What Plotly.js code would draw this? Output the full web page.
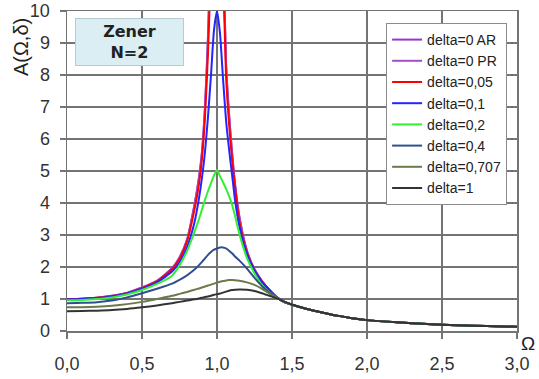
<!DOCTYPE html>
<html>
<head>
<meta charset="utf-8">
<script src="https://cdn.plot.ly/plotly-3.0.1.min.js"></script>
<style>html,body{margin:0;padding:0;background:#fff;}#chart{width:539px;height:379px;}</style>
</head>
<body>
<div id="chart"></div>
<script>
// Shared frequency ratio grid (Omega)
const omega = [0, 0.1, 0.2, 0.3, 0.4, 0.5, 0.6, 0.7, 0.75, 0.8, 0.85, 0.88, 0.9, 0.92, 0.94, 0.96, 0.98, 1.0, 1.02, 1.04, 1.06, 1.08, 1.1, 1.12, 1.15, 1.2, 1.25, 1.3, 1.35, 1.4, 1.45, 1.5, 1.6, 1.7, 1.8, 1.9, 2.0, 2.2, 2.4, 2.6, 2.8, 3.0];

const seriesNames = ["delta=0 AR", "delta=0 PR", "delta=0,05", "delta=0,1", "delta=0,2", "delta=0,4", "delta=0,707", "delta=1"];

const d0AR  = [1.00, 1.01, 1.04, 1.10, 1.19, 1.36, 1.57, 1.96, 2.3, 2.85, 3.95, 4.8, 5.6, 7.0, 9.2, 12.5, 25, null, 25, 12.5, 8.4, 6.8, 5.6, 4.6, 3.55, 2.5, 1.93, 1.56, 1.28, 1.05, 0.9, 0.82, 0.69, 0.58, 0.48, 0.40, 0.34, 0.27, 0.22, 0.18, 0.155, 0.13];
const d0PR  = [1.00, 1.01, 1.04, 1.10, 1.19, 1.36, 1.57, 1.96, 2.3, 2.85, 3.95, 4.8, 5.6, 7.0, 9.2, 12.5, 25, null, 25, 12.5, 8.4, 6.8, 5.6, 4.6, 3.55, 2.5, 1.93, 1.56, 1.28, 1.05, 0.9, 0.82, 0.69, 0.58, 0.48, 0.40, 0.34, 0.27, 0.22, 0.18, 0.155, 0.13];
const d005  = [1.00, 1.01, 1.04, 1.09, 1.18, 1.34, 1.55, 1.93, 2.25, 2.8, 3.8, 4.6, 5.4, 6.7, 8.7, 11.5, 15, 18, 15, 11.5, 8.0, 6.5, 5.4, 4.5, 3.4, 2.45, 1.9, 1.55, 1.28, 1.05, 0.9, 0.82, 0.69, 0.58, 0.48, 0.40, 0.34, 0.27, 0.22, 0.18, 0.155, 0.13];
const d01   = [0.99, 1.00, 1.03, 1.08, 1.17, 1.32, 1.52, 1.86, 2.15, 2.62, 3.4, 4.15, 4.8, 5.6, 6.7, 8.0, 9.4, 10.0, 9.3, 7.9, 6.6, 5.7, 4.9, 4.1, 3.25, 2.4, 1.88, 1.53, 1.27, 1.05, 0.9, 0.82, 0.69, 0.58, 0.48, 0.40, 0.34, 0.27, 0.22, 0.18, 0.155, 0.13];
const d02   = [0.96, 0.97, 1.0, 1.05, 1.14, 1.28, 1.47, 1.73, 2.05, 2.5, 3.1, 3.5, 3.8, 4.1, 4.37, 4.62, 4.86, 5.03, 4.84, 4.65, 4.45, 4.22, 3.95, 3.6, 3.02, 2.28, 1.8, 1.43, 1.2, 1.04, 0.9, 0.82, 0.69, 0.58, 0.48, 0.40, 0.34, 0.27, 0.22, 0.18, 0.155, 0.13];
const d04   = [0.87, 0.88, 0.9, 0.95, 1.05, 1.18, 1.32, 1.48, 1.6, 1.74, 1.92, 2.06, 2.16, 2.27, 2.38, 2.47, 2.54, 2.58, 2.61, 2.61, 2.58, 2.51, 2.43, 2.33, 2.2, 1.95, 1.66, 1.40, 1.19, 1.04, 0.9, 0.82, 0.69, 0.58, 0.48, 0.40, 0.34, 0.27, 0.22, 0.18, 0.155, 0.13];
const d0707 = [0.74, 0.745, 0.76, 0.79, 0.84, 0.91, 1.0, 1.1, 1.16, 1.22, 1.29, 1.33, 1.36, 1.39, 1.42, 1.45, 1.48, 1.51, 1.54, 1.56, 1.58, 1.59, 1.59, 1.585, 1.57, 1.52, 1.44, 1.32, 1.17, 1.04, 0.91, 0.82, 0.69, 0.58, 0.48, 0.40, 0.34, 0.27, 0.22, 0.18, 0.155, 0.13];
const d1    = [0.62, 0.625, 0.635, 0.655, 0.69, 0.74, 0.8, 0.87, 0.91, 0.95, 0.99, 1.02, 1.04, 1.06, 1.08, 1.1, 1.13, 1.15, 1.17, 1.2, 1.23, 1.26, 1.28, 1.29, 1.30, 1.29, 1.25, 1.18, 1.1, 1.02, 0.92, 0.83, 0.69, 0.58, 0.48, 0.40, 0.34, 0.27, 0.22, 0.18, 0.155, 0.13];

const seriesValues = [d0AR, d0PR, d005, d01, d02, d04, d0707, d1];
const seriesColors = ["#9933cc", "#a64dc4", "#ff0000", "#2424ff", "#33ee33", "#2f4f8f", "#6b7a4a", "#333333"];

const xTickVals = [0, 0.5, 1.0, 1.5, 2.0, 2.5, 3.0];
const xTickText = ["0,0", "0,5", "1,0", "1,5", "2,0", "2,5", "3,0"];
const yTickVals = [0, 1, 2, 3, 4, 5, 6, 7, 8, 9, 10];

const traces = seriesNames.map((name, i) => ({
  x: omega,
  y: seriesValues[i],
  name: name,
  type: "scatter",
  mode: "lines",
  connectgaps: false,
  line: {color: seriesColors[i], width: 2, shape: "spline", smoothing: 0.6}
}));

const fontFam = "Liberation Sans, Arial, sans-serif";

const layout = {
  width: 539, height: 379,
  margin: {l: 67, r: 22, t: 11, b: 48},
  paper_bgcolor: "#ffffff",
  plot_bgcolor: "#ffffff",
  showlegend: true,
  legend: {
    x: 0.978, xanchor: "right", y: 0.9625, yanchor: "top",
    bgcolor: "#ffffff", bordercolor: "#8c8c8c", borderwidth: 1,
    font: {family: fontFam, size: 14, color: "#222"},
    itemwidth: 30, tracegroupgap: 0
  },
  xaxis: {
    range: [0, 3], tickvals: xTickVals, ticktext: xTickText,
    showgrid: true, gridcolor: "#747474", gridwidth: 1.5,
    showline: true, linecolor: "#747474", linewidth: 1.5, mirror: true,
    ticks: "outside", ticklen: 6, tickcolor: "#747474", tickwidth: 1.5,
    ticklabelstandoff: 10,
    tickfont: {family: fontFam, size: 18, color: "#333"},
    zeroline: false, fixedrange: true
  },
  yaxis: {
    range: [0, 10], tickvals: yTickVals,
    showgrid: true, gridcolor: "#747474", gridwidth: 1.5,
    showline: true, linecolor: "#747474", linewidth: 1.5, mirror: true,
    ticks: "outside", ticklen: 6, tickcolor: "#747474", tickwidth: 1.5,
    ticklabelstandoff: 6,
    tickfont: {family: fontFam, size: 18, color: "#333"},
    zeroline: false, fixedrange: true
  },
  annotations: [
    {
      xref: "paper", yref: "paper", x: 0.1378, y: 0.903,
      xanchor: "center", yanchor: "middle",
      text: "<b>Zener<br>N=2</b>", showarrow: false,
      font: {family: "DejaVu Sans, sans-serif", size: 16, color: "#222"},
      bgcolor: "#dbeef4", bordercolor: "#b7cbd2", borderwidth: 1, borderpad: 0,
      width: 107, height: 46
    },
    {
      xref: "paper", yref: "paper", x: -0.102, y: 0.8875,
      xanchor: "center", yanchor: "middle", textangle: -90,
      text: "A(Ω,δ)", showarrow: false,
      font: {family: fontFam, size: 20, color: "#222"}
    },
    {
      xref: "paper", yref: "paper", x: 1.0244, y: -0.0375,
      xanchor: "center", yanchor: "middle",
      text: "Ω", showarrow: false,
      font: {family: fontFam, size: 19, color: "#222"}
    }
  ]
};

Plotly.newPlot("chart", traces, layout, {displayModeBar: false, staticPlot: true});
</script>
</body>
</html>
